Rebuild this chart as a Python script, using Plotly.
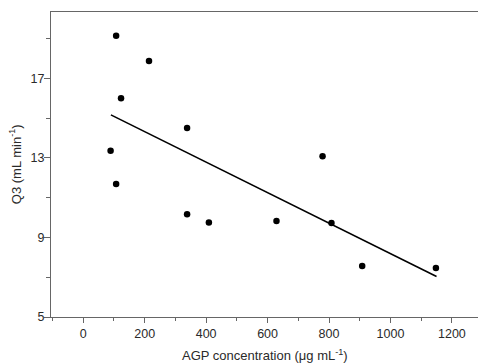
import plotly.graph_objects as go

agp = [107, 214, 123, 338, 89, 107, 338, 409, 629, 808, 908, 1148, 779]
q3 = [19.14, 17.87, 16.0, 14.5, 13.35, 11.69, 10.17, 9.75, 9.83, 9.72, 7.56, 7.46, 13.08]
fit_x = [90, 1150]
fit_y = [15.16, 7.04]

axis_color = "#666666"
text_color = "#2a2a2a"
font_family = "Liberation Sans, Arial, sans-serif"

fig = go.Figure()
fig.add_trace(go.Scatter(x=fit_x, y=fit_y, mode="lines",
                         line=dict(color="black", width=1.6), showlegend=False))
fig.add_trace(go.Scatter(x=agp, y=q3, mode="markers",
                         marker=dict(color="black", size=6.5), showlegend=False))

fig.update_layout(
    width=478, height=363,
    margin=dict(l=51, r=0, t=12, b=46),
    paper_bgcolor="white", plot_bgcolor="white",
    font=dict(family=font_family, color=text_color, size=12),
    xaxis=dict(
        range=[-105, 1285], tick0=0, dtick=200, automargin=False,
        showgrid=False, zeroline=False,
        showline=True, linecolor=axis_color, linewidth=1.3, mirror=True,
        ticks="outside", ticklen=5, tickcolor=axis_color,
        minor=dict(ticks="outside", dtick=100, tick0=0, ticklen=3, tickcolor=axis_color),
        tickfont=dict(size=12.5, color=text_color),
    ),
    yaxis=dict(
        range=[5, 20.33], tick0=5, dtick=4, automargin=False,
        showgrid=False, zeroline=False,
        showline=True, linecolor=axis_color, linewidth=1.3, mirror=False,
        ticks="outside", ticklen=6, tickcolor=axis_color,
        minor=dict(ticks="outside", dtick=2, tick0=5, ticklen=4, tickcolor=axis_color),
        tickfont=dict(size=12.5, color=text_color),
        ticklabelstandoff=-3,
    ),
    annotations=[
        dict(text="AGP concentration (\u03bcg mL<sup>-1</sup>)", xref="paper", yref="paper",
             x=0.5, y=-0.125, xanchor="center", yanchor="middle", showarrow=False,
             font=dict(size=13, color=text_color)),
        dict(text="Q3 (mL min<sup>-1</sup>)", xref="paper", yref="paper",
             x=-0.085, y=0.5, xanchor="center", yanchor="middle", showarrow=False,
             textangle=-90, font=dict(size=13, color=text_color)),
    ],
)

fig.write_html("out.html", config={"displayModeBar": False},
               post_script="document.body.style.margin='0';")
